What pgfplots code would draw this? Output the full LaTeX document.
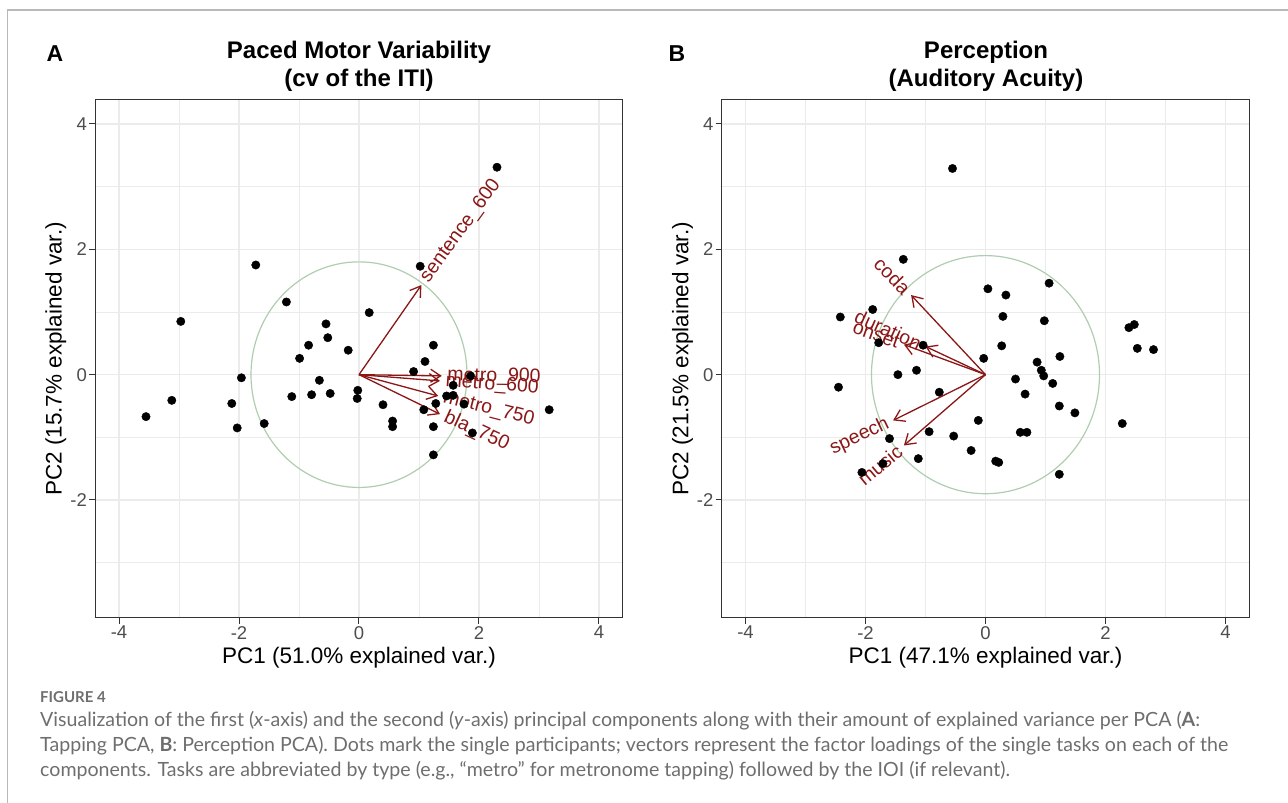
\documentclass[border=0pt]{standalone}
\usepackage{pgfplots}
\pgfplotsset{compat=1.18}
\usepackage{fontspec}
\setmainfont{Liberation Sans}
\newfontfamily\capfont{Lato}
\usetikzlibrary{arrows.meta}
\definecolor{vecred}{RGB}{139,22,22}
\definecolor{grey20}{RGB}{51,51,51}
\definecolor{grey30}{RGB}{77,77,77}
\definecolor{gridc}{RGB}{235,235,235}
\definecolor{circ}{RGB}{175,205,175}
\definecolor{capgray}{RGB}{110,110,110}
\definecolor{framegray}{RGB}{185,185,185}

\pgfplotstableread{
x y
-1.72 1.75
-1.21 1.16
-2.97 0.85
-0.55 0.81
-0.52 0.59
-0.84 0.47
-0.18 0.39
-0.99 0.26
-1.96 -0.05
-0.66 -0.09
-1.12 -0.35
-0.79 -0.32
-0.48 -0.30
-0.02 -0.25
-0.03 -0.38
-3.12 -0.41
-3.55 -0.67
-2.12 -0.46
-2.03 -0.85
-1.58 -0.78
2.30 3.31
1.02 1.73
0.17 0.99
1.24 0.47
1.10 0.21
0.91 0.05
1.86 -0.02
1.57 -0.17
1.46 -0.34
1.57 -0.33
1.28 -0.46
1.08 -0.56
0.40 -0.48
0.56 -0.74
0.56 -0.83
1.24 -0.83
1.89 -0.93
3.17 -0.56
1.24 -1.28
1.75 -0.47
}\tapping

\pgfplotstableread{
x y
-0.55 3.29
-1.37 1.84
0.04 1.37
-1.88 1.04
-2.42 0.92
-1.78 0.51
-1.04 0.47
-0.03 0.26
-1.15 0.07
-1.46 0.00
-2.45 -0.20
-0.77 -0.28
-0.12 -0.73
-0.94 -0.91
-0.53 -0.98
-1.60 -1.02
-0.24 -1.21
-1.12 -1.34
-2.06 -1.56
-1.71 -1.42
1.06 1.46
0.34 1.27
0.29 0.93
0.98 0.86
0.27 0.46
1.24 0.29
0.86 0.20
0.93 0.07
0.97 -0.02
0.50 -0.07
1.12 -0.14
0.66 -0.31
1.23 -0.50
1.49 -0.61
0.58 -0.92
0.69 -0.92
2.39 0.75
2.48 0.80
2.53 0.42
2.80 0.40
2.28 -0.78
1.23 -1.59
0.17 -1.38
0.22 -1.40
}\perception

\tikzset{
  vec/.style={vecred, line width=1.3pt, -{Straight Barb[length=10pt,width=13pt,line width=1.3pt]}},
  vlab/.style={text=vecred, font=\fontsize{19.5}{19.5}\selectfont, inner sep=0pt, inner xsep=5pt},
}
\pgfplotsset{
  biplot/.style={
    scale only axis, width=528pt, height=518pt,
    xmin=-4.4, xmax=4.4, ymin=-3.883, ymax=4.383,
    xtick={-4,-2,0,2,4}, xticklabels={-4,-2,0,2,4},
    ytick={-2,0,2,4}, yticklabels={-2,0,2,4},
    minor xtick={-3,-1,1,3}, minor ytick={-3,-1,1,3},
    grid=both,
    major grid style={gridc, line width=1.3pt},
    minor grid style={gridc, line width=0.8pt},
    axis line style={grey20, line width=1pt},
    tick pos=left, tick align=outside,
    major tick length=6pt, minor tick length=0pt,
    major tick style={grey20, line width=1pt},
    ticklabel style={font=\fontsize{18.5}{18.5}\selectfont, text=grey30},
    xticklabel style={inner ysep=2pt},
    yticklabel style={inner xsep=2pt},
    label style={font=\fontsize{22.5}{22.5}\selectfont},
    xlabel style={at={(axis description cs:0.5,-0.076)}, anchor=center},
    ylabel style={at={(axis description cs:-0.074,0.5)}, anchor=center},
    clip=false,
  },
}

\newlength\capw
\newcommand\capA{Visualization of the first (\textit{x}-axis) and the second (\textit{y}-axis) principal components along with their amount of explained variance per PCA (\textbf{A}:}

\begin{document}
\settowidth\capw{\capfont\fontsize{17}{17}\selectfont\capA}%
\pgfmathsetmacro\capsize{1160/\capw*17}%
\begin{tikzpicture}
\path[use as bounding box] (0pt,0pt) rectangle (1288pt,803pt);
\draw[framegray, line width=1.3pt] (7.5pt,0pt) -- (7.5pt,793pt) -- (1288pt,793pt);

% Panel A
\node[font=\bfseries\fontsize{23}{23}\selectfont] at (55pt,749pt) {A};
\node[font=\bfseries\fontsize{24}{28}\selectfont, align=center] at (359pt,737pt) {Paced Motor Variability\\(cv of the ITI)};
\begin{axis}[biplot, at={(95pt,185pt)}, anchor=south west,
  xlabel={PC1 (51.0\% explained var.)}, ylabel={PC2 (15.7\% explained var.)}]
\draw[circ, line width=1.2pt] (axis cs:0,0) ellipse [x radius=1.8, y radius=1.8];
\addplot[only marks, mark=*, mark size=4.2pt, black] table[x=x,y=y] {\tapping};
\addplot[vec] coordinates {(0,0) (1.04,1.43)} node[pos=1, vlab, anchor=west, rotate=54.0] {sentence\_600};
\addplot[vec] coordinates {(0,0) (1.38,-0.02)} node[pos=1, vlab, anchor=west, rotate=-0.8] {metro\_900};
\addplot[vec] coordinates {(0,0) (1.35,-0.10)} node[pos=1, vlab, anchor=west, rotate=-4.2] {metro\_600};
\addplot[vec] coordinates {(0,0) (1.32,-0.34)} node[pos=1, vlab, anchor=west, rotate=-14.4] {metro\_750};
\addplot[vec] coordinates {(0,0) (1.35,-0.63)} node[pos=1, vlab, anchor=west, rotate=-25.0] {bla\_750};
\end{axis}

% Panel B
\node[font=\bfseries\fontsize{23}{23}\selectfont] at (677pt,749pt) {B};
\node[font=\bfseries\fontsize{24}{28}\selectfont, align=center] at (986pt,737pt) {Perception\\(Auditory Acuity)};
\begin{axis}[biplot, at={(721.5pt,185pt)}, anchor=south west,
  xlabel={PC1 (47.1\% explained var.)}, ylabel={PC2 (21.5\% explained var.)}]
\draw[circ, line width=1.2pt] (axis cs:0,0) ellipse [x radius=1.9, y radius=1.9];
\addplot[only marks, mark=*, mark size=4.2pt, black] table[x=x,y=y] {\perception};
\addplot[vec] coordinates {(0,0) (-1.24,1.27)} node[pos=1, vlab, anchor=east, rotate=-45.7] {coda};
\addplot[vec] coordinates {(0,0) (-1.00,0.45)} node[pos=1, vlab, anchor=east, rotate=-24.2] {duration};
\addplot[vec] coordinates {(0,0) (-1.36,0.48)} node[pos=1, vlab, anchor=east, rotate=-19.4] {onset};
\addplot[vec] coordinates {(0,0) (-1.54,-0.73)} node[pos=1, vlab, anchor=east, rotate=25.4] {speech};
\addplot[vec] coordinates {(0,0) (-1.36,-1.13)} node[pos=1, vlab, anchor=east, rotate=39.7] {music};
\end{axis}

% Caption
\node[anchor=west, inner sep=0pt, text=capgray, font=\capfont\bfseries\fontsize{15}{15}\selectfont] at (40pt,106pt) {FIGURE 4};
\begin{scope}[every node/.style={anchor=base west, inner sep=0pt, text=capgray, font=\capfont\fontsize{\capsize}{\capsize}\selectfont}]
\node at (40pt,76pt) {\capA};
\node at (40pt,51pt) {Tapping PCA, \textbf{B}: Perception PCA). Dots mark the single participants; vectors represent the factor loadings of the single tasks on each of the};
\node at (40pt,26pt) {components. Tasks are abbreviated by type (e.g., “metro” for metronome tapping) followed by the IOI (if relevant).};
\end{scope}
\end{tikzpicture}
\end{document}
